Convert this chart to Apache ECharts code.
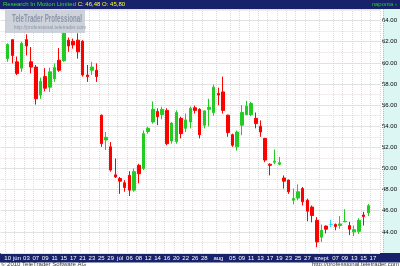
<!DOCTYPE html>
<html>
<head>
<meta charset="utf-8">
<script src="https://cdn.jsdelivr.net/npm/echarts@6/dist/echarts.min.js"></script>
<style>html,body{margin:0;padding:0;background:#fff;}#c{width:400px;height:266px;}</style>
</head>
<body>
<div id="c"></div>
<script>
// Trading days on the axis (first and last two slots have no candle)
const dates = ['05-26','05-27','05-28','06-01','06-02','06-03','06-04','06-07','06-08','06-09','06-10','06-11','06-14','06-15','06-16','06-17','06-18','06-21','06-22','06-23','06-24','06-25','06-28','06-29','06-30','07-01','07-02','07-06','07-07','07-08','07-09','07-12','07-13','07-14','07-15','07-16','07-19','07-20','07-21','07-22','07-23','07-26','07-27','07-28','07-29','07-30','08-02','08-03','08-04','08-05','08-06','08-09','08-10','08-11','08-12','08-13','08-16','08-17','08-18','08-19','08-20','08-23','08-24','08-25','08-26','08-27','08-30','08-31','09-01','09-02','09-03','09-07','09-08','09-09','09-10','09-13','09-14','09-15','09-16','09-17','09-20'];
// Candle dates (May 27 .. Sep 16)
const candleDates = dates.slice(1, 79);
const open  = [60.4,62.2,60.1,59.5,62.2,60.1,59.6,56.95,58.7,57.7,58.5,60.25,60.2,62.15,62.05,62.15,62.05,58.85,59.3,59.3,
               55.05,52.7,52.05,49.4,49.05,48.65,49.35,47.95,50.3,50.0,53.5,54.4,55.4,55.1,55.5,52.6,52.55,54.75,53.8,54.4,
               55.75,55.6,54.1,55.6,55.3,57.1,57.25,55.05,53.2,52.05,54.1,55.1,55.1,54.75,54.0,52.85,50.4,50.6,50.4,49.1,
               48.9,47.0,47.2,48.1,47.0,46.35,45.1,43.5,44.55,44.7,44.7,44.6,44.95,44.6,44.0,44.05,45.6,45.80];
const close = [61.75,60.7,59.0,61.85,61.6,59.6,56.6,58.25,57.6,59.15,59.55,59.3,62.8,61.6,61.7,61.05,58.85,58.7,59.6,58.7,
               52.35,52.95,49.85,49.2,48.8,48.2,47.95,49.7,49.5,53.3,53.8,55.6,54.9,55.6,52.35,54.3,55.3,53.3,54.6,55.7,
               55.5,53.2,55.45,55.8,57.7,56.95,55.5,53.4,52.2,53.45,55.3,55.9,56.15,54.25,53.45,50.8,50.3,50.7,50.55,48.8,
               47.8,47.15,47.8,46.85,45.95,45.55,43.05,44.15,44.25,44.7,44.5,44.75,45.0,44.25,44.2,45.1,45.45,46.48];
const low   = [60.1,59.95,58.85,59.15,60.7,59.0,56.05,56.6,57.3,57.25,58.2,59.15,60.1,61.05,61.35,60.4,58.7,58.2,58.85,58.2,
               52.05,51.75,49.7,49.1,47.6,47.8,47.4,47.8,48.6,49.85,53.3,54.25,54.1,54.65,52.2,52.35,52.35,52.85,53.45,53.8,
               55.2,52.85,53.8,54.0,55.0,56.0,55.2,53.0,52.05,51.7,53.15,55.05,54.95,53.8,53.0,50.6,49.35,50.4,50.3,48.1,
               47.6,46.6,47.0,46.5,45.0,44.9,42.55,43.05,43.85,44.45,44.15,44.3,44.95,43.7,43.6,43.8,44.6,45.5];
const high  = [61.85,62.25,60.6,62.0,62.7,61.5,59.8,58.6,59.5,59.55,59.95,61.4,62.9,62.4,62.3,62.8,62.15,59.8,60.1,59.95,
               55.1,53.45,52.5,50.95,49.2,48.9,49.75,50.0,50.45,53.6,53.95,56.35,55.7,55.85,55.7,54.4,55.5,54.9,55.2,55.85,
               55.95,55.7,55.5,56.6,57.95,57.65,58.7,55.1,53.3,53.6,56.0,56.4,56.3,55.3,54.55,52.9,50.5,51.8,51.1,49.35,
               48.95,48.1,48.5,48.25,47.15,46.5,45.4,44.7,44.6,45.15,44.8,45.5,46.15,44.95,44.6,45.3,45.9,46.65];
// Axis tick labels keyed by date
const tickLabels = {'05-27':'10','06-01':'jún','06-03':'03','06-07':'07','06-09':'09','06-11':'11','06-15':'15','06-17':'17',
  '06-21':'21','06-23':'23','06-25':'25','06-29':'29','07-01':'júl','07-06':'06','07-08':'08','07-12':'12','07-14':'14',
  '07-16':'16','07-20':'20','07-22':'22','07-26':'26','07-28':'28','08-02':'aug','08-05':'05','08-09':'09','08-11':'11',
  '08-13':'13','08-17':'17','08-19':'19','08-23':'23','08-25':'25','08-27':'27','09-01':'szept','09-07':'07','09-09':'09',
  '09-13':'13','09-15':'15','09-17':'17'};
const yMin = 42, yMax = 65.1, yStep = 2;
const yLabelMin = 44, yLabelMax = 64;

const byDate = {};
candleDates.forEach((d, i) => { byDate[d] = [open[i], close[i], low[i], high[i]]; });
const seriesData = dates.map(d => byDate[d] || '-');
const lastO = open[open.length - 1], lastC = close[close.length - 1];
const fmt = v => v.toFixed(2).replace('.', ',');

const NAVY = '#17226b';
const FONT = '"Liberation Sans", Arial, sans-serif';
const chart = echarts.init(document.getElementById('c'), null, {renderer: 'canvas'});
chart.setOption({
  animation: false,
  backgroundColor: '#ffffff',
  grid: {left: 0, right: 17, top: 9, bottom: 13},
  xAxis: {
    type: 'category', data: dates, boundaryGap: true,
    axisLine: {show: false}, axisTick: {show: false},
    axisLabel: {interval: 0, formatter: v => tickLabels[v] || '', color: '#ffffff', fontSize: 6, fontFamily: FONT, margin: 2},
    splitLine: {show: true, interval: (i, v) => !!tickLabels[v], lineStyle: {color: '#e6d6d6', type: 'dotted', width: 1}}
  },
  yAxis: {
    type: 'value', position: 'right', min: yMin, max: yMax, interval: yStep, scale: true,
    axisLine: {show: false}, axisTick: {show: false},
    axisLabel: {
      formatter: v => (v >= yLabelMin - 1e-6 && v <= yLabelMax + 1e-6 && Math.abs(v / yStep - Math.round(v / yStep)) < 1e-6) ? v.toFixed(2) : '',
      color: '#000000', fontSize: 6, fontFamily: FONT, margin: 2
    },
    splitLine: {show: true, lineStyle: {color: '#e2e2e2', width: 1}},
    minorTick: {show: false, splitNumber: 2},
    minorSplitLine: {show: true, lineStyle: {color: '#ead8d8', type: 'dotted'}}
  },
  series: [{
    type: 'candlestick', data: seriesData, barWidth: 3,
    itemStyle: {color: '#22cc22', color0: '#ff0000', borderColor: '#22cc22', borderColor0: '#ff0000', borderColorDoji: '#22e0ff', borderWidth: 1},
    markLine: {
      silent: true, symbol: 'none',
      lineStyle: {opacity: 0},
      label: {position: 'end', distance: 1, formatter: p => p.value.toFixed(2), backgroundColor: '#ffff00', color: '#000', fontSize: 6, fontFamily: FONT, padding: [1, 1, 0, 1]},
      data: [{yAxis: lastC}]
    }
  }],
  graphic: [
    {type: 'rect', z: -1, silent: true, shape: {x: 0, y: 0, width: 400, height: 9}, style: {fill: NAVY}},
    {type: 'rect', z: -1, silent: true, shape: {x: 0, y: 253, width: 400, height: 9.5}, style: {fill: NAVY}},
    {type: 'rect', z: -1, silent: true, shape: {x: 383, y: 9, width: 17, height: 244}, style: {fill: '#dcf6f4'}},
    {type: 'line', z: 5, silent: true, shape: {x1: 383.5, y1: 9, x2: 383.5, y2: 253}, style: {stroke: '#c9c37a', lineWidth: 1, lineDash: [1, 1]}},
    {type: 'text', z: 5, silent: true, x: 3, y: 4.8, style: {
      text: '{a|Research In Motion Limited} {b|C: ' + fmt(lastC) + ' O: ' + fmt(lastO) + '}',
      verticalAlign: 'middle', font: '6px ' + FONT,
      rich: {a: {fill: '#33dd33', fontSize: 6, fontFamily: FONT}, b: {fill: '#ffff33', fontSize: 6, fontFamily: FONT}}
    }},
    {type: 'text', z: 5, silent: true, x: 397, y: 4.8, style: {text: 'naponta ›', fill: '#22cc22', font: '6px ' + FONT, align: 'right', verticalAlign: 'middle'}},
    {type: 'text', z: 5, silent: true, x: 1, y: 264.5, style: {text: '© 2010 TeleTrader Software AG', fill: '#333333', font: '6px ' + FONT, verticalAlign: 'middle'}},
    {type: 'text', z: 5, silent: true, x: 399, y: 264.5, style: {text: 'http://professional.teletrader.com', fill: '#333333', font: '6px ' + FONT, align: 'right', verticalAlign: 'middle'}},
    {type: 'rect', z: 10, silent: true, shape: {x: 5, y: 10, width: 80, height: 23}, style: {fill: '#c6cad3', opacity: 0.85}},
    {type: 'text', z: 11, silent: true, x: 47, y: 19, scaleX: 0.62, originX: 0, originY: 0, style: {text: 'TeleTrader Professional', fill: '#8d97aa', font: 'bold 10px ' + FONT, align: 'center', verticalAlign: 'middle'}},
    {type: 'text', z: 11, silent: true, x: 50, y: 27.5, style: {text: 'http://professional.teletrader.com', fill: '#8d97aa', font: '5px ' + FONT, align: 'center', verticalAlign: 'middle'}}
  ]
});
</script>
</body>
</html>
